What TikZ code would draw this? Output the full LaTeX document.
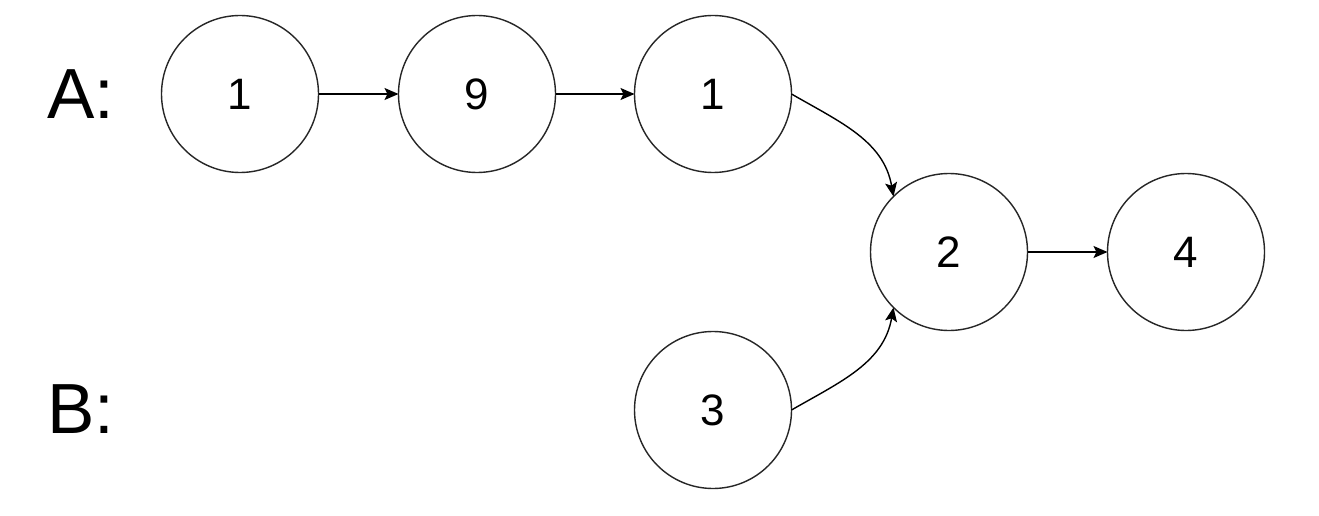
\documentclass[tikz,border=0pt]{standalone}
\usepackage{fontspec}
\setmainfont{Liberation Sans}
\usetikzlibrary{arrows.meta}
\begin{document}
\begin{tikzpicture}[x=1pt,y=-1pt,
  nd/.style={circle,draw=black!85,line width=1.4pt,minimum size=157pt,inner sep=0pt,outer sep=0pt,font=\fontsize{44}{50}\selectfont},
  lbl/.style={inner sep=0pt,font=\fontsize{71}{80}\selectfont},
  conn/.style={line width=1.4pt,-{Stealth[length=14pt,width=12pt,inset=3pt]}}]
\useasboundingbox[fill=white] (0,0) rectangle (1319,516);
\node[lbl] (la) at (81,94) {A:};
\node[lbl] (lb) at (81,409) {B:};
\node[nd] (a1) at (240,94) {1};
\node[nd] (a2) at (477,94) {9};
\node[nd] (a3) at (713,94) {1};
\node[nd] (c1) at (949,252) {2};
\node[nd] (c2) at (1186,252) {4};
\node[nd] (b1) at (713,410) {3};
\draw[conn] (a1) -- (a2);
\draw[conn] (a2) -- (a3);
\draw[conn] (a3.east) to[out=-30,in=100] (c1.135);
\draw[conn] (b1.east) to[out=30,in=-100] (c1.225);
\draw[conn] (c1) -- (c2);
\end{tikzpicture}
\end{document}
